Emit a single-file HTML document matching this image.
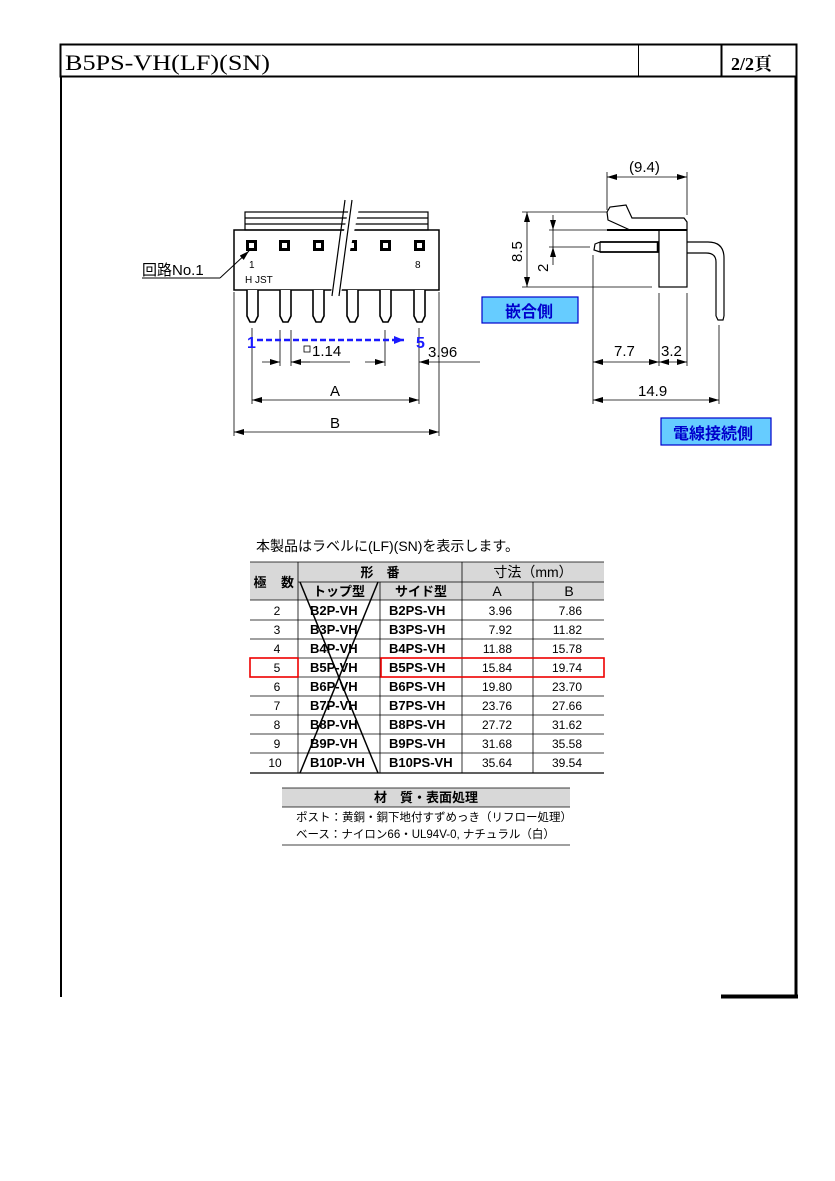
<!DOCTYPE html>
<html><head><meta charset="utf-8"><style>
body{margin:0;background:#fff}
svg{display:block}
text{font-family:"Liberation Sans","Noto Sans CJK JP",sans-serif}
</style></head><body>
<svg width="835" height="1181" viewBox="0 0 835 1181" xmlns="http://www.w3.org/2000/svg">
<defs>
<marker id="a" markerWidth="10" markerHeight="6" refX="10" refY="3" orient="auto-start-reverse" markerUnits="userSpaceOnUse"><path d="M0,0L10,3L0,6z" fill="#000"/></marker>
<marker id="b" markerWidth="10" markerHeight="8" refX="10" refY="4" orient="auto" markerUnits="userSpaceOnUse"><path d="M0,0L10,4L0,8z" fill="#1a1aff"/></marker>
</defs>
<g stroke="#000" fill="none">
<rect x="60.5" y="44.5" width="736" height="32" stroke-width="2"/>
<line x1="61" y1="76" x2="61" y2="997" stroke-width="2"/>
<line x1="796" y1="76" x2="796" y2="997" stroke-width="3"/>
<line x1="721" y1="996.5" x2="798" y2="996.5" stroke-width="4"/>
<line x1="638.5" y1="44" x2="638.5" y2="76"/>
<line x1="721.5" y1="44" x2="721.5" y2="76" stroke-width="2"/>
</g>
<text x="65" y="70" font-size="22" textLength="205" lengthAdjust="spacingAndGlyphs" style="font-family:'Liberation Serif','Noto Serif CJK SC',serif">B5PS-VH(LF)(SN)</text>
<text x="731" y="70" font-size="18" font-weight="bold" style="font-family:'Liberation Serif','Noto Serif CJK SC',serif">2/2頁</text>

<g stroke="#000" fill="none" stroke-width="1.2">
<rect x="245" y="212" width="183" height="18"/>
<line x1="245" y1="218" x2="428" y2="218"/>
<line x1="245" y1="224" x2="428" y2="224"/>
<rect x="234" y="230" width="205" height="60" stroke-width="1.5"/>
</g>
<g fill="#000">
<rect x="246" y="240" width="11" height="11"/><rect x="279" y="240" width="11" height="11"/><rect x="313" y="240" width="11" height="11"/><rect x="346" y="240" width="11" height="11"/><rect x="380" y="240" width="11" height="11"/><rect x="414" y="240" width="11" height="11"/>
</g>
<g fill="#fff"><rect x="249" y="243" width="5" height="5"/><rect x="282" y="243" width="5" height="5"/><rect x="316" y="243" width="5" height="5"/><rect x="349" y="243" width="5" height="5"/><rect x="383" y="243" width="5" height="5"/><rect x="417" y="243" width="5" height="5"/></g>
<g stroke="#000" fill="#fff" stroke-width="1.6">
<path d="M247,290V316L250,322H255L258,316V290"/>
<path d="M280,290V316L283,322H288L291,316V290"/>
<path d="M313,290V316L316,322H321L324,316V290"/>
<path d="M347,290V316L350,322H355L358,316V290"/>
<path d="M380,290V316L383,322H388L391,316V290"/>
<path d="M414,290V316L417,322H422L425,316V290"/>
</g>
<rect x="339" y="200" width="10" height="110" fill="#fff" transform="rotate(12 344 255)"/>
<g stroke="#000" stroke-width="1.2">
<line x1="345" y1="200" x2="332" y2="296"/><line x1="352" y1="200" x2="339" y2="296"/>
</g>
<text x="249" y="268" font-size="10">1</text><text x="415" y="268" font-size="10">8</text>
<text x="245" y="283" font-size="10">H  JST</text>
<text x="142" y="275" font-size="15">回路No.1</text>
<line x1="142" y1="278" x2="220" y2="278" stroke="#000"/>
<line x1="220" y1="278" x2="249" y2="251" stroke="#000" marker-end="url(#a)"/>
<g stroke="#000" stroke-width="0.8" fill="none">
<line x1="252" y1="328" x2="252" y2="404"/><line x1="419" y1="328" x2="419" y2="404"/>
<line x1="280" y1="330" x2="280" y2="366"/><line x1="291" y1="330" x2="291" y2="366"/>
<line x1="385" y1="330" x2="385" y2="366"/>
<line x1="234" y1="292" x2="234" y2="436"/><line x1="439" y1="292" x2="439" y2="436"/>
<line x1="262" y1="362" x2="280" y2="362" marker-end="url(#a)"/>
<line x1="310" y1="362" x2="291" y2="362" marker-end="url(#a)"/>
<line x1="291" y1="362" x2="350" y2="362"/>
<line x1="365" y1="362" x2="385" y2="362" marker-end="url(#a)"/>
<line x1="480" y1="362" x2="419" y2="362" marker-end="url(#a)"/>
<line x1="252" y1="400" x2="419" y2="400" marker-start="url(#a)" marker-end="url(#a)"/>
<line x1="234" y1="432" x2="439" y2="432" marker-start="url(#a)" marker-end="url(#a)"/>
</g>
<rect x="304" y="346" width="6" height="6" fill="none" stroke="#000" stroke-width="0.8"/>
<text x="312" y="356" font-size="15">1.14</text>
<text x="428" y="357" font-size="15">3.96</text>
<text x="330" y="396" font-size="15">A</text>
<text x="330" y="428" font-size="15">B</text>
<line x1="257" y1="340" x2="404" y2="340" stroke="#1a1aff" stroke-width="2.5" stroke-dasharray="6,3" marker-end="url(#b)"/>
<text x="247" y="348" font-size="16" font-weight="bold" fill="#1a1aff">1</text>
<text x="416" y="348" font-size="16" font-weight="bold" fill="#1a1aff">5</text>

<g stroke="#000" fill="none" stroke-width="1.2">
<path d="M607,212L610,207L626,205L632,218L684,218L687,222V230"/>
<path d="M607,212L608,220L630,230"/>
<line x1="607" y1="230" x2="687" y2="230" stroke-width="2"/>
<rect x="659" y="230" width="28" height="57"/>
<path d="M600,242H659M600,252H659" stroke-width="1.8"/>
<path d="M600,242L595,244L594,250L600,252" />
<line x1="600" y1="242" x2="600" y2="252"/>
<line x1="658" y1="242" x2="658" y2="252" stroke-width="2.5"/>
<path d="M687,242H708Q724,242 724,258V316M687,253H706Q716,253 716,262V316"/>
<path d="M716,316L718,320H723L724,316"/>
</g>
<g stroke="#000" stroke-width="0.8" fill="none">
<line x1="607" y1="172" x2="607" y2="210"/><line x1="687" y1="172" x2="687" y2="215"/>
<line x1="607" y1="177" x2="687" y2="177" marker-start="url(#a)" marker-end="url(#a)"/>
<line x1="522" y1="212" x2="607" y2="212"/><line x1="522" y1="287" x2="652" y2="287"/>
<line x1="527" y1="212" x2="527" y2="287" marker-start="url(#a)" marker-end="url(#a)"/>
<line x1="549" y1="230" x2="659" y2="230"/><line x1="549" y1="247" x2="590" y2="247"/>
<line x1="553" y1="215" x2="553" y2="230" marker-end="url(#a)"/>
<line x1="553" y1="265" x2="553" y2="247" marker-end="url(#a)"/>
<line x1="553" y1="230" x2="553" y2="247"/>
<line x1="593" y1="255" x2="593" y2="404"/><line x1="659" y1="293" x2="659" y2="366"/>
<line x1="687" y1="293" x2="687" y2="366"/><line x1="719" y1="325" x2="719" y2="404"/>
<line x1="593" y1="362" x2="659" y2="362" marker-start="url(#a)" marker-end="url(#a)"/>
<line x1="659" y1="362" x2="687" y2="362" marker-start="url(#a)" marker-end="url(#a)"/>
<line x1="593" y1="400" x2="719" y2="400" marker-start="url(#a)" marker-end="url(#a)"/>
</g>
<text x="629" y="172" font-size="15">(9.4)</text>
<text x="0" y="0" font-size="15" transform="translate(522,262) rotate(-90)">8.5</text>
<text x="0" y="0" font-size="15" transform="translate(548,272) rotate(-90)">2</text>
<text x="614" y="356" font-size="15">7.7</text>
<text x="661" y="356" font-size="15">3.2</text>
<text x="638" y="396" font-size="15">14.9</text>
<rect x="482" y="297" width="96" height="26" fill="#66ccff" stroke="#0000cc" stroke-width="1.2"/>
<text x="505" y="317" font-size="16" font-weight="bold" fill="#0000cc">嵌合側</text>
<rect x="661" y="418" width="110" height="27" fill="#66ccff" stroke="#0000cc" stroke-width="1.2"/>
<text x="673" y="439" font-size="16" font-weight="bold" fill="#0000cc">電線接続側</text>

<text x="256" y="551" font-size="14">本製品はラベルに(LF)(SN)を表示します。</text>
<rect x="250" y="562" width="354" height="38" fill="#d8d8d8"/>
<g stroke="#000" stroke-width="0.8" fill="none">
<line x1="250" y1="562" x2="604" y2="562"/>
<line x1="298" y1="582" x2="604" y2="582"/>
<line x1="250" y1="600" x2="604" y2="600"/>
<line x1="250" y1="620" x2="604" y2="620"/><line x1="250" y1="639" x2="604" y2="639"/>
<line x1="250" y1="658" x2="604" y2="658"/><line x1="250" y1="677" x2="604" y2="677"/>
<line x1="250" y1="696" x2="604" y2="696"/><line x1="250" y1="715" x2="604" y2="715"/>
<line x1="250" y1="734" x2="604" y2="734"/><line x1="250" y1="753" x2="604" y2="753"/>
<line x1="250" y1="773" x2="604" y2="773" stroke-width="1.2"/>
<line x1="298" y1="562" x2="298" y2="773"/><line x1="380" y1="582" x2="380" y2="773"/>
<line x1="462" y1="562" x2="462" y2="773"/><line x1="533" y1="582" x2="533" y2="773"/>
<line x1="300" y1="582" x2="378" y2="773" stroke-width="1.5"/>
<line x1="378" y1="582" x2="300" y2="773" stroke-width="1.5"/>
</g>
<g stroke="#e00" stroke-width="1.6" fill="none">
<rect x="250" y="658" width="48" height="19"/><rect x="381" y="658" width="223" height="19"/>
</g>
<g font-size="13" font-weight="bold" text-anchor="middle">
<text x="260" y="587">極</text><text x="294" y="587" text-anchor="end">数</text>
<text x="380" y="577">形　番</text>
<text x="339" y="596">トップ型</text><text x="421" y="596">サイド型</text>
</g>
<g font-size="14" text-anchor="middle"><text x="533" y="577">寸法（mm）</text><text x="497" y="596">A</text><text x="569" y="596">B</text></g>
<g font-size="12" text-anchor="middle">
<text x="277" y="615">2</text><text x="277" y="634">3</text><text x="277" y="653">4</text><text x="277" y="672">5</text><text x="277" y="691">6</text><text x="277" y="710">7</text><text x="277" y="729">8</text><text x="277" y="748">9</text><text x="275" y="767">10</text>
</g>
<g font-size="13" font-weight="bold">
<text x="310" y="615">B2P-VH</text><text x="310" y="634">B3P-VH</text><text x="310" y="653">B4P-VH</text><text x="310" y="672">B5P-VH</text><text x="310" y="691">B6P-VH</text><text x="310" y="710">B7P-VH</text><text x="310" y="729">B8P-VH</text><text x="310" y="748">B9P-VH</text><text x="310" y="767">B10P-VH</text>
<text x="389" y="615">B2PS-VH</text><text x="389" y="634">B3PS-VH</text><text x="389" y="653">B4PS-VH</text><text x="389" y="672">B5PS-VH</text><text x="389" y="691">B6PS-VH</text><text x="389" y="710">B7PS-VH</text><text x="389" y="729">B8PS-VH</text><text x="389" y="748">B9PS-VH</text><text x="389" y="767">B10PS-VH</text>
</g>
<g font-size="12" text-anchor="end">
<text x="512" y="615">3.96</text><text x="512" y="634">7.92</text><text x="512" y="653">11.88</text><text x="512" y="672">15.84</text><text x="512" y="691">19.80</text><text x="512" y="710">23.76</text><text x="512" y="729">27.72</text><text x="512" y="748">31.68</text><text x="512" y="767">35.64</text>
<text x="582" y="615">7.86</text><text x="582" y="634">11.82</text><text x="582" y="653">15.78</text><text x="582" y="672">19.74</text><text x="582" y="691">23.70</text><text x="582" y="710">27.66</text><text x="582" y="729">31.62</text><text x="582" y="748">35.58</text><text x="582" y="767">39.54</text>
</g>
<rect x="282" y="788" width="288" height="19" fill="#d8d8d8"/>
<g stroke="#000" stroke-width="0.8"><line x1="282" y1="788" x2="570" y2="788"/><line x1="282" y1="807" x2="570" y2="807"/><line x1="282" y1="845" x2="570" y2="845"/></g>
<text x="426" y="802" font-size="13" font-weight="bold" text-anchor="middle">材　質・表面処理</text>
<text x="296" y="821" font-size="11.5">ポスト：黄銅・銅下地付すずめっき（リフロー処理）</text>
<text x="296" y="838" font-size="11.5">ベース：ナイロン66・UL94V-0, ナチュラル（白）</text>
</svg>
</body></html>
